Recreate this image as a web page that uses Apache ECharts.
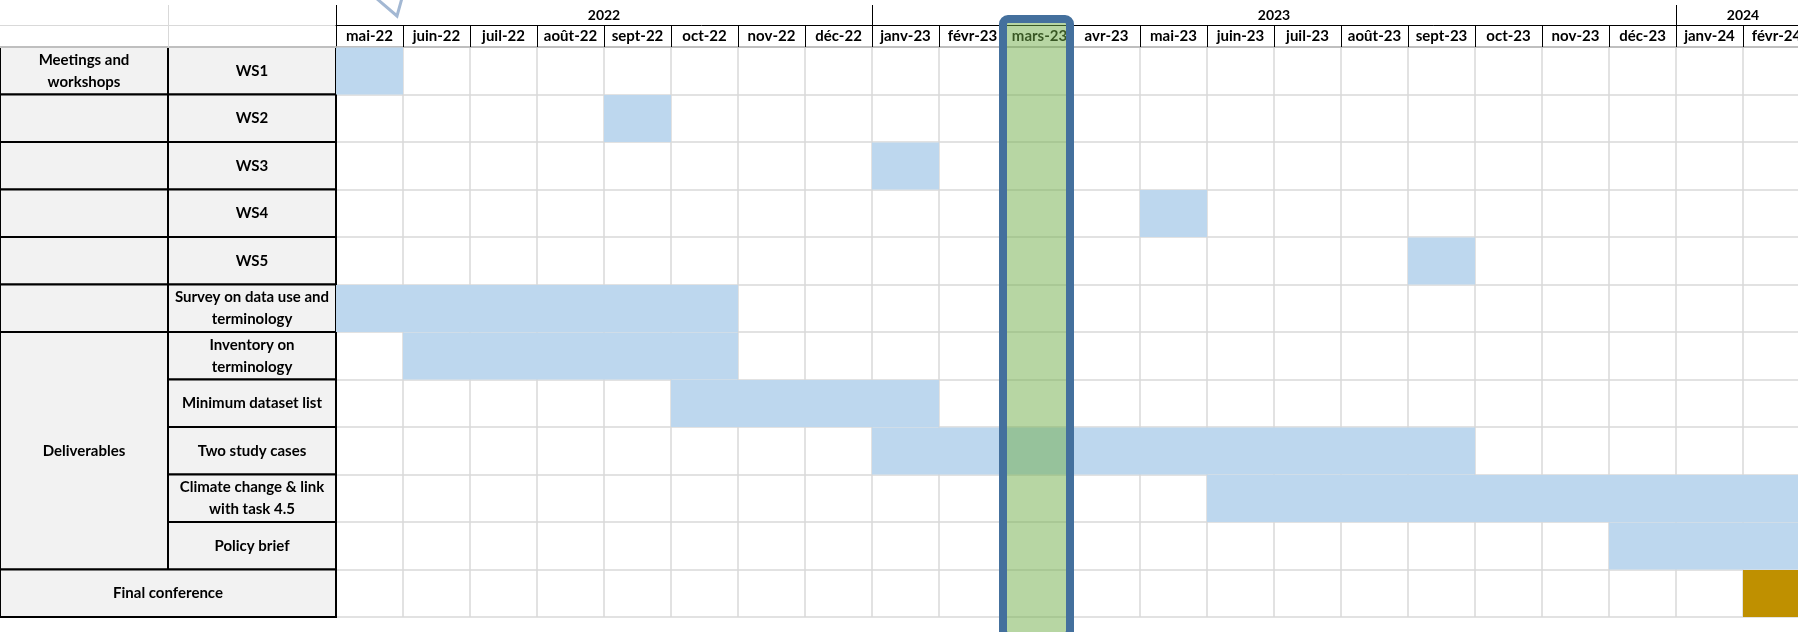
<!DOCTYPE html>
<html>
<head>
<meta charset="utf-8">
<script src="https://cdn.jsdelivr.net/npm/echarts@6/dist/echarts.min.js"></script>
<style>
  html, body { margin: 0; padding: 0; background: #fff; }
  #chart { width: 1798px; height: 632px; }
</style>
</head>
<body>
<div id="chart"></div>
<script>
// months shown on the timeline
var months = ['mai-22', 'juin-22', 'juil-22', 'août-22', 'sept-22', 'oct-22', 'nov-22', 'déc-22',
  'janv-23', 'févr-23', 'mars-23', 'avr-23', 'mai-23', 'juin-23', 'juil-23', 'août-23',
  'sept-23', 'oct-23', 'nov-23', 'déc-23', 'janv-24', 'févr-24'];

// years (first / last month index they cover)
var years = ['2022', '2023', '2024'];
var yearFirstMonth = [0, 8, 20];
var yearLastMonth = [7, 19, 21];

// left table: groups (merged cells in first column)
var groupNames = ['Meetings and\nworkshops', '', '', '', '', '', 'Deliverables'];
var groupFirstRow = [0, 1, 2, 3, 4, 5, 6];
var groupLastRow = [0, 1, 2, 3, 4, 5, 10];

// rows / tasks
var rowLabels = ['WS1', 'WS2', 'WS3', 'WS4', 'WS5',
  'Survey on data use and\nterminology', 'Inventory on\nterminology', 'Minimum dataset list',
  'Two study cases', 'Climate change & link\nwith task 4.5', 'Policy brief', 'Final conference'];
var taskStart = [0, 4, 8, 12, 16, 0, 1, 5, 8, 13, 19, 21];
var taskEnd   = [0, 4, 8, 12, 16, 5, 5, 8, 16, 21, 21, 21];

var highlightMonth = 'mars-23';

var FONT = 'Lato, "Open Sans", sans-serif';
var BLUE = '#bdd7ee';
var GOLD = '#bf9000';
var GRIDLINE = '#d9d9d9';

var chart = echarts.init(document.getElementById('chart'));

// build cells of the left table
var cells = [];
for (var g = 0; g < groupNames.length; g++) {
  cells.push({ x0: 0, x1: 1, r0: groupFirstRow[g], r1: groupLastRow[g], text: groupNames[g] });
}
for (var r = 0; r < rowLabels.length; r++) {
  var inGroup = false;
  for (var k = 0; k < groupNames.length; k++) {
    if (r >= groupFirstRow[k] && r <= groupLastRow[k]) inGroup = true;
  }
  if (inGroup) cells.push({ x0: 1, x1: 2, r0: r, r1: r, text: rowLabels[r] });
  else cells.push({ x0: 0, x1: 2, r0: r, r1: r, text: rowLabels[r] });
}

var yearCenters = years.map(function (y, i) {
  return (yearFirstMonth[i] + yearLastMonth[i] + 1) / 2;
});

var option = {
  animation: false,
  backgroundColor: '#fff',
  grid: [
    { left: 0, top: 47, width: 336, height: 570, outerBoundsMode: 'none' },
    { left: 336, top: 47, width: 22 * 67, height: 570, outerBoundsMode: 'none' }
  ],
  xAxis: [
    {
      gridIndex: 0, type: 'value', min: 0, max: 2, position: 'top', z: 5,
      axisLine: { show: true, lineStyle: { color: '#bfbfbf', width: 2 } },
      axisTick: { show: true, customValues: [1], length: 42, lineStyle: { color: GRIDLINE } },
      axisLabel: { show: false },
      splitLine: { show: false }
    },
    {
      gridIndex: 0, type: 'value', min: 0, max: 2, position: 'top', offset: 22,
      axisLine: { show: true, lineStyle: { color: GRIDLINE, width: 1 } },
      axisTick: { show: false },
      axisLabel: { show: false },
      splitLine: { show: false }
    },
    {
      gridIndex: 1, type: 'category', data: months, position: 'top', boundaryGap: true,
      axisLine: { show: true, lineStyle: { color: '#bfbfbf', width: 2 } },
      axisTick: { show: true, interval: 0, length: 22, lineStyle: { color: '#000', width: 1 } },
      axisLabel: {
        interval: 0, margin: 3, color: '#000', fontWeight: 'bold', fontSize: 15, fontFamily: FONT
      },
      splitLine: { show: true, interval: 0, lineStyle: { color: GRIDLINE, width: 1.5 } }
    },
    { gridIndex: 1, type: 'value', min: 0, max: 22, show: false },
    {
      gridIndex: 1, type: 'value', min: 0, max: 22, position: 'top', offset: 22,
      axisLine: { show: true, lineStyle: { color: '#000', width: 1 } },
      axisTick: { show: true, customValues: yearFirstMonth, length: 20, lineStyle: { color: '#000' } },
      axisLabel: {
        customValues: yearCenters, margin: 3, color: '#000', fontWeight: 'bold', fontSize: 14, fontFamily: FONT,
        formatter: function (v) {
          var i = yearCenters.indexOf(v);
          return i >= 0 ? years[i] : '';
        }
      },
      splitLine: { show: false }
    }
  ],
  yAxis: [
    { gridIndex: 0, type: 'value', min: 0, max: 12, inverse: true, show: false },
    {
      gridIndex: 1, type: 'value', min: 0, max: 12, interval: 1, inverse: true,
      axisLine: { show: false }, axisTick: { show: false }, axisLabel: { show: false },
      splitLine: { show: true, lineStyle: { color: GRIDLINE, width: 1.5 } }
    }
  ],
  graphic: [
    {
      type: 'polyline', silent: true,
      shape: { points: [[376, -2], [397, 16], [402, -2]] },
      style: { stroke: '#a3b8d3', lineWidth: 3, fill: null }
    }
  ],
  series: [
    {
      name: 'table', type: 'custom', xAxisIndex: 0, yAxisIndex: 0, clip: false,
      data: cells.map(function (c) { return [c.x0, c.x1, c.r0, c.r1]; }),
      renderItem: function (params, api) {
        var c = cells[params.dataIndex];
        var p0 = api.coord([api.value(0), api.value(2)]);
        var p1 = api.coord([api.value(1), api.value(3) + 1]);
        return {
          type: 'group',
          children: [
            {
              type: 'rect',
              shape: { x: p0[0], y: p0[1], width: p1[0] - p0[0], height: p1[1] - p0[1] },
              style: { fill: '#f2f2f2', stroke: '#000', lineWidth: 2 }
            },
            {
              type: 'text',
              style: {
                text: c.text, x: (p0[0] + p1[0]) / 2, y: (p0[1] + p1[1]) / 2,
                align: 'center', verticalAlign: 'middle',
                fontSize: 15, fontWeight: 'bold', fontFamily: FONT, lineHeight: 22, fill: '#000'
              }
            }
          ]
        };
      }
    },
    {
      name: 'tasks', type: 'custom', xAxisIndex: 3, yAxisIndex: 1, clip: false,
      data: rowLabels.map(function (name, i) { return [i, taskStart[i], taskEnd[i]]; }),
      renderItem: function (params, api) {
        var row = api.value(0);
        var p0 = api.coord([api.value(1), row]);
        var p1 = api.coord([api.value(2) + 1, row + 1]);
        var color = rowLabels[params.dataIndex] === 'Final conference' ? GOLD : BLUE;
        return {
          type: 'rect',
          shape: { x: p0[0], y: p0[1] + 0.5, width: p1[0] - p0[0], height: p1[1] - p0[1] - 0.5 },
          style: { fill: color }
        };
      }
    },
    {
      name: 'highlight', type: 'custom', xAxisIndex: 3, yAxisIndex: 1, clip: false, z: 10,
      data: [[months.indexOf(highlightMonth)]],
      renderItem: function (params, api) {
        var m = api.value(0);
        var x0 = api.coord([m, 0])[0];
        var x1 = api.coord([m + 1, 0])[0];
        return {
          type: 'rect',
          shape: { x: x0 - 3, y: 19, width: x1 - x0, height: api.getHeight() - 15, r: 5 },
          style: { fill: 'rgba(112,173,71,0.5)', stroke: '#44709d', lineWidth: 8 }
        };
      }
    }
  ]
};

chart.setOption(option);
</script>
</body>
</html>
